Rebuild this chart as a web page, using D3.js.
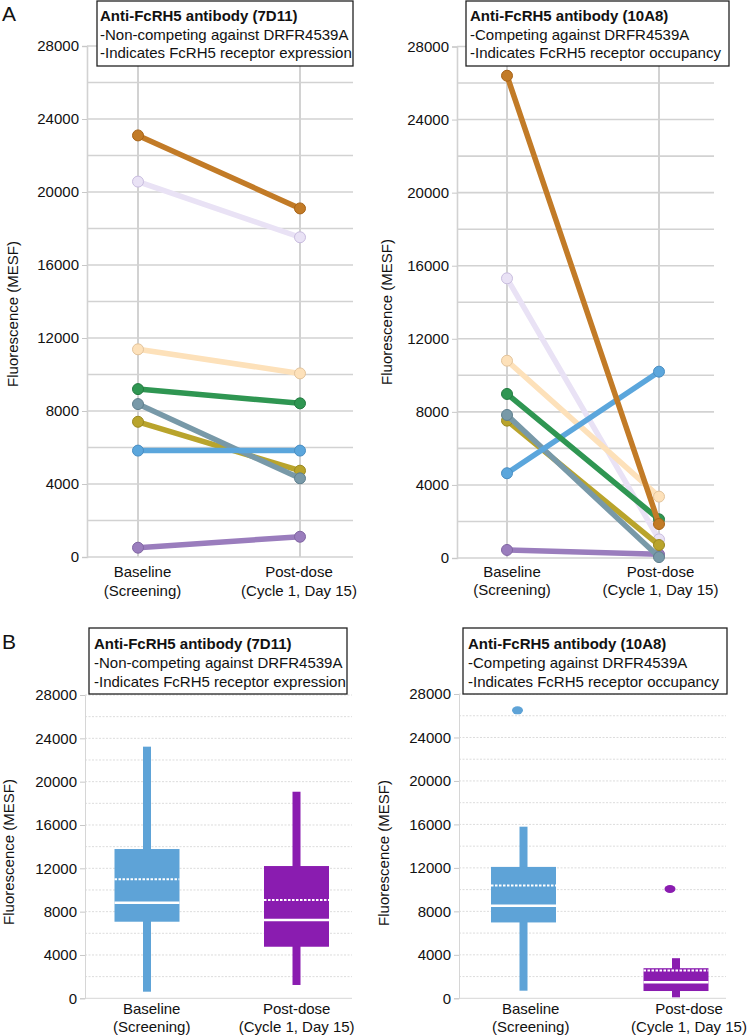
<!DOCTYPE html>
<html>
<head>
<meta charset="utf-8">
<script src="https://cdn.jsdelivr.net/npm/d3@7/dist/d3.min.js"></script>
<style>
  html, body { margin: 0; padding: 0; background: #fff; }
  svg { display: block; font-family: "Liberation Sans", Arial, sans-serif; }
</style>
</head>
<body>
<svg id="chart" width="748" height="1036"></svg>
<script>
// ---------------- DATA ----------------
const categories = ["Baseline", "Post-dose"];
const categorySub = ["(Screening)", "(Cycle 1, Day 15)"];
const yTickValues = [0, 4000, 8000, 12000, 16000, 20000, 24000, 28000];
const gridValues = [0, 2000, 4000, 6000, 8000, 10000, 12000, 14000, 16000, 18000, 20000, 22000, 24000, 26000, 28000];

const title7D11 = ["Anti-FcRH5 antibody (7D11)", "-Non-competing against DRFR4539A", "-Indicates FcRH5 receptor expression"];
const title10A8 = ["Anti-FcRH5 antibody (10A8)", "-Competing against DRFR4539A", "-Indicates FcRH5 receptor occupancy"];
const yTitle = "Fluorescence (MESF)";

// patients (one line each), panel A
const patients = ["P1", "P2", "P3", "P4", "P5", "P6", "P7", "P8"];
const a7D11Baseline = [23100, 20570, 11380, 9200, 8380, 7410, 5830, 510];
const a7D11Post     = [19100, 17520, 10060, 8420, 4310, 4730, 5830, 1110];
const a10A8Baseline = [26400, 15310, 10800, 8980, 7830, 7520, 4640, 440];
const a10A8Post     = [1860, 1020, 3360, 2120, 50, 710, 10200, 200];

// box statistics, panel B (Baseline, Post-dose)
const box7D11Min    = [610, 1230];
const box7D11Q1     = [7070, 4760];
const box7D11Median = [8830, 7230];
const box7D11Mean   = [10990, 9070];
const box7D11Q3     = [13780, 12210];
const box7D11Max    = [23230, 19070];
const box7D11Outliers = [[], []];

const box10A8Min    = [700, 90];
const box10A8Q1     = [6980, 670];
const box10A8Median = [8520, 1480];
const box10A8Mean   = [10390, 2550];
const box10A8Q3     = [12090, 2770];
const box10A8Max    = [15790, 3690];
const box10A8Outliers = [[26500], [10060]];

// ---------------- STYLE ----------------
const lineColors  = ["#c27b27", "#e9e2f5", "#fde1ba", "#2f9652", "#7899a8", "#b9a42c", "#5ba6dc", "#9a7dbd"];
const pointStroke = ["#a86418", "#c9bddf", "#e3c49c", "#237a40", "#5f7f8d", "#9a8820", "#4a8ec2", "#8166a3"];
const drawOrder = [1, 2, 7, 5, 4, 6, 3, 0];
const boxColors = ["#5ea3d7", "#8a1cb0"];

const svg = d3.select("#chart");
const FONT = 15;

function panelLetter(txt, x, y) {
  svg.append("text").attr("x", x).attr("y", y).attr("font-size", 21).attr("fill", "#111").text(txt);
}

function legendBox(lines, x0, y0, x1, y1, tx, baselines) {
  const g = svg.append("g");
  g.append("rect").attr("x", x0).attr("y", y0).attr("width", x1 - x0).attr("height", y1 - y0)
    .attr("fill", "#fff").attr("stroke", "#222").attr("stroke-width", 1.3);
  lines.forEach((t, i) => {
    g.append("text").attr("x", tx).attr("y", baselines[i]).attr("font-size", FONT)
      .attr("font-weight", i === 0 ? "bold" : "normal").attr("fill", "#111").text(t);
  });
}

function yAxisCommon(g, y, axisX, right, labelX, dotted) {
  // gridlines
  g.selectAll("line.grid").data(gridValues).join("line")
    .attr("x1", axisX).attr("x2", right)
    .attr("y1", d => y(d)).attr("y2", d => y(d))
    .attr("stroke", dotted ? (d => d === 0 ? "#d6d6d6" : "#dcdcdc") : "#d2d2d2")
    .attr("stroke-width", dotted ? 1 : 1.6)
    .attr("stroke-dasharray", dotted ? (d => d === 0 ? null : "2,1.5") : null);
  // axis via d3
  const ax = g.append("g").attr("transform", `translate(${axisX},0)`)
    .call(d3.axisLeft(y).tickValues(yTickValues).tickSize(5).tickPadding(3).tickFormat(d3.format("d")));
  ax.select(".domain").attr("stroke", dotted ? "#d6d6d6" : "#d2d2d2").attr("stroke-width", dotted ? 1 : 1.6);
  ax.selectAll(".tick line").attr("stroke", "#c8c8c8").attr("stroke-width", 1);
  ax.selectAll(".tick text").attr("font-size", FONT).attr("fill", "#111")
    .attr("font-family", "Liberation Sans, Arial, sans-serif");
}

function yTitleText(x, cy) {
  svg.append("text").attr("transform", `translate(${x},${cy}) rotate(-90)`)
    .attr("text-anchor", "middle").attr("font-size", FONT).attr("fill", "#111").text(yTitle);
}

function xLabels(xl, y1, y2) {
  categories.forEach((c, i) => {
    svg.append("text").attr("x", xl(c)).attr("y", y1).attr("text-anchor", "middle")
      .attr("font-size", FONT).attr("fill", "#111").text(c);
    svg.append("text").attr("x", xl(c)).attr("y", y2).attr("text-anchor", "middle")
      .attr("font-size", FONT).attr("fill", "#111").text(categorySub[i]);
  });
}

function linePanel(cfg) {
  const y = d3.scaleLinear().domain([0, 28000]).range([cfg.y0, cfg.y28]);
  const x = d3.scalePoint().domain(categories).range(cfg.xr);
  const xl = d3.scalePoint().domain(categories).range(cfg.xlabel);
  const g = svg.append("g");
  yAxisCommon(g, y, cfg.axisX, cfg.right, null, false);
  // vertical category gridlines
  g.selectAll("line.vg").data(categories).join("line")
    .attr("x1", d => x(d)).attr("x2", d => x(d))
    .attr("y1", cfg.y28).attr("y2", cfg.y0)
    .attr("stroke", "#d2d2d2").attr("stroke-width", 2);
  const line = d3.line().x(d => x(d[0])).y(d => y(d[1]));
  drawOrder.forEach(i => {
    const pts = [[categories[0], cfg.base[i]], [categories[1], cfg.post[i]]];
    g.append("path").attr("d", line(pts)).attr("fill", "none")
      .attr("stroke", lineColors[i]).attr("stroke-width", 5.5).attr("stroke-linecap", "round");
    pts.forEach(p => {
      g.append("circle").attr("cx", x(p[0])).attr("cy", y(p[1])).attr("r", 5.5)
        .attr("fill", lineColors[i]).attr("stroke", pointStroke[i]).attr("stroke-width", 1);
    });
  });
  xLabels(xl, cfg.labelY1, cfg.labelY2);
}

function boxPanel(cfg) {
  const y = d3.scaleLinear().domain([0, 28000]).range([cfg.y0, cfg.y28]);
  const x = d3.scalePoint().domain(categories).range(cfg.xr);
  const xl = d3.scalePoint().domain(categories).range(cfg.xlabel);
  const g = svg.append("g");
  yAxisCommon(g, y, cfg.axisX, cfg.right, null, true);
  const boxW = 65, whW = 8;
  categories.forEach((c, i) => {
    const cx = x(c), col = boxColors[i];
    g.append("rect").attr("x", cx - whW / 2).attr("width", whW)
      .attr("y", y(cfg.max[i])).attr("height", y(cfg.min[i]) - y(cfg.max[i])).attr("fill", col);
    g.append("rect").attr("x", cx - boxW / 2).attr("width", boxW)
      .attr("y", y(cfg.q3[i])).attr("height", y(cfg.q1[i]) - y(cfg.q3[i])).attr("fill", col);
    g.append("line").attr("x1", cx - boxW / 2).attr("x2", cx + boxW / 2)
      .attr("y1", y(cfg.median[i])).attr("y2", y(cfg.median[i]))
      .attr("stroke", "#fff").attr("stroke-width", 2.5);
    g.append("line").attr("x1", cx - boxW / 2).attr("x2", cx + boxW / 2)
      .attr("y1", y(cfg.mean[i])).attr("y2", y(cfg.mean[i]))
      .attr("stroke", "#fff").attr("stroke-width", 2).attr("stroke-dasharray", "2.5,1.5");
    cfg.outliers[i].forEach(v => {
      g.append("ellipse").attr("cx", cx - 6).attr("cy", y(v)).attr("rx", 5.5).attr("ry", 4).attr("fill", col);
    });
  });
  xLabels(xl, cfg.labelY1, cfg.labelY2);
}

// ---------------- PANEL A ----------------
linePanel({ y0: 557, y28: 46, xr: [138, 300], xlabel: [142.5, 299], axisX: 87, right: 353,
  base: a7D11Baseline, post: a7D11Post, labelY1: 577, labelY2: 595.5 });
linePanel({ y0: 558, y28: 46.5, xr: [507, 659], xlabel: [512, 660.5], axisX: 457, right: 714,
  base: a10A8Baseline, post: a10A8Post, labelY1: 576.5, labelY2: 595 });
yTitleText(18, 314);
yTitleText(392, 312);
legendBox(title7D11, 97, 1, 353, 66, 100, [21, 39.5, 57.5]);
legendBox(title10A8, 466, 1, 729, 66, 470, [21, 39.5, 57.5]);
panelLetter("A", 2, 21);

// ---------------- PANEL B ----------------
boxPanel({ y0: 998.3, y28: 695, xr: [147, 296.5], xlabel: [151.7, 296.7], axisX: 85, right: 352,
  min: box7D11Min, q1: box7D11Q1, median: box7D11Median, mean: box7D11Mean, q3: box7D11Q3, max: box7D11Max,
  outliers: box7D11Outliers, labelY1: 1013.5, labelY2: 1032 });
boxPanel({ y0: 998.3, y28: 694, xr: [523.5, 676], xlabel: [530.7, 689], axisX: 459, right: 726,
  min: box10A8Min, q1: box10A8Q1, median: box10A8Median, mean: box10A8Mean, q3: box10A8Q3, max: box10A8Max,
  outliers: box10A8Outliers, labelY1: 1013.5, labelY2: 1032 });
yTitleText(14, 852);
yTitleText(389, 853);
legendBox(title7D11, 89, 628, 347, 694, 94, [649, 668, 687]);
legendBox(title10A8, 463, 628, 727, 694, 468, [649, 668, 687]);
panelLetter("B", 2, 649);
</script>
</body>
</html>
